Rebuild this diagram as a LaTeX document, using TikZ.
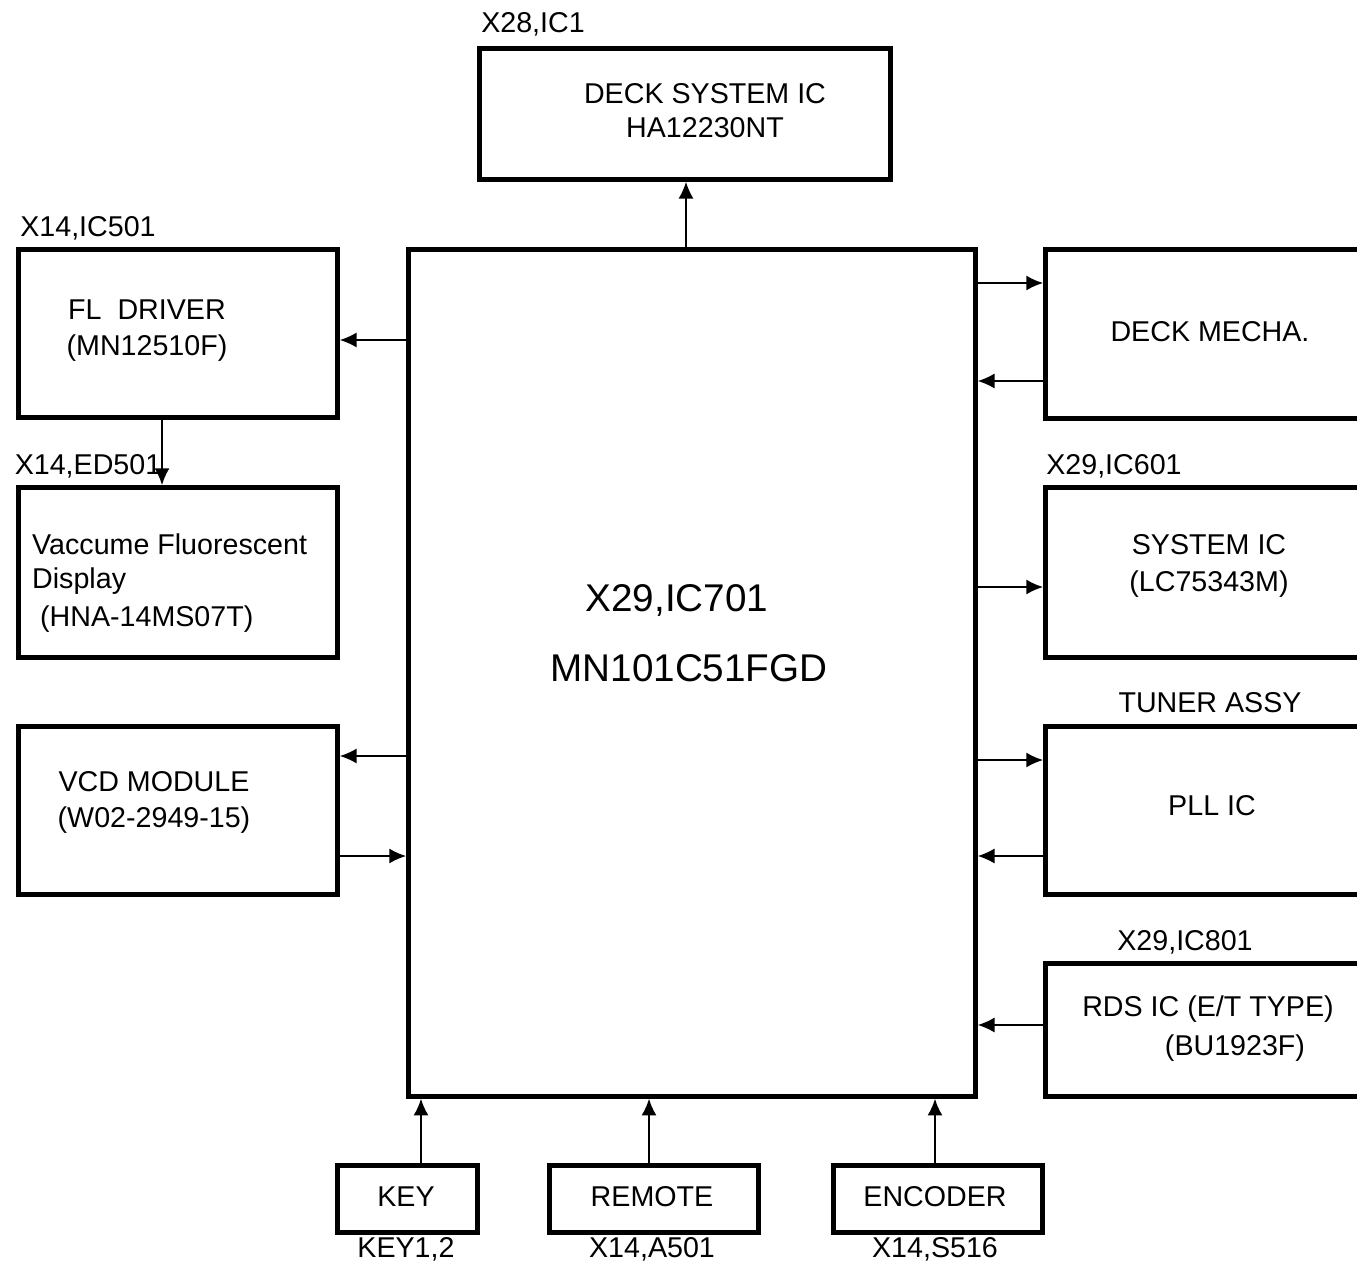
\documentclass[tikz,border=0pt]{standalone}
\usepackage{fontspec}
\setmainfont{Liberation Sans}
\usetikzlibrary{arrows.meta,positioning}

\tikzset{
  blk/.style={draw,line width=2.8pt,anchor=north west,inner sep=0pt},
  arr/.style={-{Latex[length=9.5pt,width=8.5pt]},line width=0.8pt},
}

\begin{document}
\begin{tikzpicture}[x=0.02cm,y=-0.02cm,font=\fontsize{16.3}{19.5}\selectfont]
	\useasboundingbox (0,0) rectangle (1357,1261);
	\clip (0,0) rectangle (1357,1261);
	% boxes
	\node[blk,minimum width=8.22cm,minimum height=2.62cm] (decksys) at (477,46) {};
	\node[blk,minimum width=11.34cm,minimum height=16.94cm] (main) at (406,247) {};
	\node[blk,minimum width=6.38cm,minimum height=3.36cm] (fl) at (16,247) {};
	\node[blk,minimum width=6.38cm,minimum height=3.4cm] (vfd) at (16,485) {};
	\node[blk,minimum width=6.38cm,minimum height=3.36cm] (vcd) at (16,724) {};
	\node[blk,minimum width=7.14cm,minimum height=3.38cm] (mecha) at (1043,247) {};
	\node[blk,minimum width=7.14cm,minimum height=3.4cm] (sysic) at (1043,485) {};
	\node[blk,minimum width=7.14cm,minimum height=3.36cm] (pll) at (1043,724) {};
	\node[blk,minimum width=7.14cm,minimum height=2.66cm] (rds) at (1043,961) {};
	\node[blk,minimum width=2.8cm,minimum height=1.34cm] (key) at (335,1163) {};
	\node[blk,minimum width=4.18cm,minimum height=1.34cm] (remote) at (547,1163) {};
	\node[blk,minimum width=4.18cm,minimum height=1.34cm] (encoder) at (831,1163) {};
	% texts
	\node (t1) at (533,24) {X28,IC1};
	\node[align=center] (t2) at (705,111) {DECK SYSTEM IC\\HA12230NT};
	\node (t3) at (88,228) {X14,IC501};
	\node[align=center] (t4) at (147,331) {FL\ \ DRIVER\\[1pt](MN12510F)};
	\node (t5) at (88,466) {X14,ED501};
	\node[align=left,anchor=west] (t6) at (26,583) {Vaccume Fluorescent\\Display\\[2pt]\ (HNA-14MS07T)};
	\node[align=center] (t7) at (154,802) {VCD MODULE\\[1pt](W02-2949-15)};
	\node (t8) at (1210,332) {DECK MECHA.};
	\node (t9) at (1114,466) {X29,IC601};
	\node[align=center] (t10) at (1209,566) {SYSTEM IC\\[2pt](LC75343M)};
	\node (t11) at (1210,703) {TUNER ASSY};
	\node (t12) at (1212,806) {PLL IC};
	\node (t13) at (1185,942) {X29,IC801};
	\node (t14) at (1208,1009) {RDS IC (E/T TYPE)};
	\node (t15) at (1235,1048) {(BU1923F)};
	\node[font=\fontsize{22}{26}\selectfont] (t16) at (677,600) {X29,IC701};
	\node[font=\fontsize{22}{26}\selectfont] (t17) at (689,668) {MN101C51FGD};
	\node (t18) at (406,1197) {KEY};
	\node (t19) at (652,1197) {REMOTE};
	\node (t20) at (935,1197) {ENCODER};
	\node[anchor=base] (t21) at (406,1257) {KEY1,2};
	\node[anchor=base] (t22) at (652,1257) {X14,A501};
	\node[anchor=base] (t23) at (935,1257) {X14,S516};
	% connectors
	\draw[arr] (main.north -| 686,0) -- (decksys.south -| 686,0);
	\draw[arr] (main.west |- 0,340) -- (fl.east |- 0,340);
	\draw[arr] (fl.south -| 162,0) -- (vfd.north -| 162,0);
	\draw[arr] (main.west |- 0,756) -- (vcd.east |- 0,756);
	\draw[arr] (vcd.east |- 0,856) -- (main.west |- 0,856);
	\draw[arr] (main.east |- 0,283) -- (mecha.west |- 0,283);
	\draw[arr] (mecha.west |- 0,381) -- (main.east |- 0,381);
	\draw[arr] (main.east |- 0,587) -- (sysic.west |- 0,587);
	\draw[arr] (main.east |- 0,760) -- (pll.west |- 0,760);
	\draw[arr] (pll.west |- 0,856) -- (main.east |- 0,856);
	\draw[arr] (rds.west |- 0,1025) -- (main.east |- 0,1025);
	\draw[arr] (key.north -| 421,0) -- (main.south -| 421,0);
	\draw[arr] (remote.north -| 649,0) -- (main.south -| 649,0);
	\draw[arr] (encoder.north -| 935,0) -- (main.south -| 935,0);
\end{tikzpicture}
\end{document}
